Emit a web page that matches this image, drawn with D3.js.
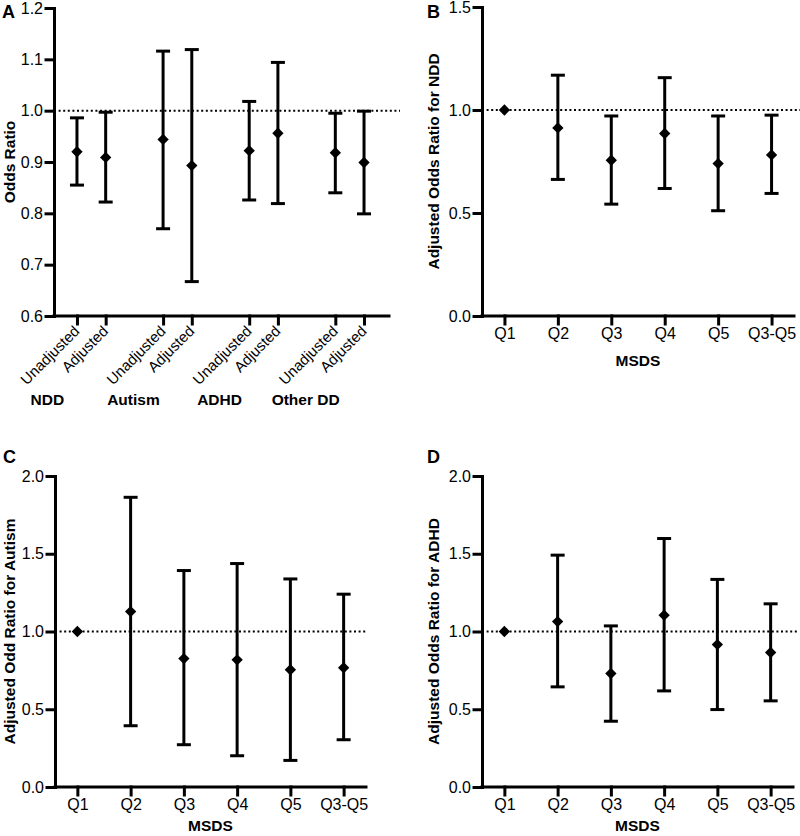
<!DOCTYPE html>
<html>
<head>
<meta charset="utf-8">
<script src="https://cdn.jsdelivr.net/npm/d3@7"></script>
<style>
  body { margin: 0; background: #fff; }
  svg { display: block; font-family: "Liberation Sans", Arial, Helvetica, sans-serif; }
  .title { font-size: 15.5px; font-weight: bold; }
  .letter { font-size: 18px; font-weight: bold; }
</style>
</head>
<body>
<svg id="chart" width="800" height="836"></svg>
<script>
// panel A: odds ratios by outcome, unadjusted / adjusted
var groupsA = ['NDD', 'Autism', 'ADHD', 'Other DD'];
var modelsA = ['Unadjusted', 'Adjusted'];
var orA = [0.920, 0.909, 0.944, 0.893, 0.922, 0.956, 0.918, 0.899];
var loA = [0.855, 0.822, 0.770, 0.667, 0.826, 0.819, 0.840, 0.799];
var hiA = [0.986, 0.997, 1.116, 1.119, 1.018, 1.094, 0.995, 0.999];
var yTicksA = [0.6, 0.7, 0.8, 0.9, 1.0, 1.1, 1.2];

// panels B-D: adjusted odds ratios by MSDS quintile
var quintiles = ['Q1', 'Q2', 'Q3', 'Q4', 'Q5', 'Q3-Q5'];
var orNDD = [1.0, 0.913, 0.756, 0.886, 0.740, 0.782];
var loNDD = [null, 0.663, 0.543, 0.619, 0.511, 0.595];
var hiNDD = [null, 1.169, 0.971, 1.157, 0.971, 0.975];
var orAutism = [1.0, 1.128, 0.826, 0.818, 0.754, 0.767];
var loAutism = [null, 0.394, 0.272, 0.201, 0.171, 0.304];
var hiAutism = [null, 1.863, 1.392, 1.437, 1.338, 1.240];
var orADHD = [1.0, 1.064, 0.730, 1.105, 0.916, 0.865];
var loADHD = [null, 0.644, 0.423, 0.618, 0.498, 0.554];
var hiADHD = [null, 1.491, 1.036, 1.598, 1.335, 1.178];
var yTicksB = [0.0, 0.5, 1.0, 1.5];
var yTicksCD = [0.0, 0.5, 1.0, 1.5, 2.0];

var svg = d3.select('#chart');

// square diamond marker
var diamond = {
    draw: function(ctx, size) {
        var r = Math.sqrt(size / 2);
        ctx.moveTo(0, -r);
        ctx.lineTo(r, 0);
        ctx.lineTo(0, r);
        ctx.lineTo(-r, 0);
        ctx.closePath();
    }
};
var marker = d3.symbol().type(diamond).size(64);

function styleAxis(sel) {
    sel.selectAll('path, line')
        .attr('stroke', '#000')
        .attr('stroke-width', 3)
        .attr('stroke-linecap', 'square');
    sel.selectAll('text')
        .attr('font-size', 16)
        .attr('fill', '#000');
}

function drawPanel(p) {
    var g = svg.append('g');
    var y = d3.scaleLinear().domain(p.yDomain).range([p.bottom, p.top]);
    var x = p.x;

    // reference line at 1
    g.append('line')
        .attr('x1', p.left).attr('x2', p.refEnd)
        .attr('y1', y(1)).attr('y2', y(1))
        .attr('stroke', '#000')
        .attr('stroke-width', 2)
        .attr('stroke-dasharray', '2,2.6');

    g.append('g')
        .attr('transform', 'translate(' + p.left + ',0)')
        .call(d3.axisLeft(y).tickValues(p.yTicks).tickFormat(d3.format('.1f'))
            .tickSize(8).tickSizeOuter(0).tickPadding(3))
        .call(styleAxis);

    var xa = g.append('g')
        .attr('transform', 'translate(0,' + p.bottom + ')')
        .call(d3.axisBottom(x).tickValues(p.xTicks).tickFormat(p.xFormat)
            .tickSize(8).tickSizeOuter(0).tickPadding(4))
        .call(styleAxis);
    xa.select('.domain').attr('d', 'M' + p.left + ',0H' + p.right);
    if (p.rotate) {
        xa.selectAll('text')
            .attr('text-anchor', 'end')
            .attr('dy', null)
            .attr('y', null)
            .attr('font-size', 15)
            .attr('transform', 'translate(3,16) rotate(-45)');
    }

    var pts = p.or.map(function(v, i) {
        return { x: x(p.xTicks[i]), v: v, lo: p.lo[i], hi: p.hi[i] };
    });

    var bars = g.selectAll('.bar')
        .data(pts.filter(function(d) { return d.lo != null; }))
        .enter()
        .append('g')
            .attr('class', 'bar')
            .attr('stroke', '#000')
            .attr('stroke-width', 3);
    bars.append('line')
        .attr('x1', function(d) { return d.x; })
        .attr('x2', function(d) { return d.x; })
        .attr('y1', function(d) { return y(d.lo); })
        .attr('y2', function(d) { return y(d.hi); });
    bars.selectAll('.cap')
        .data(function(d) { return [[d.x, d.lo], [d.x, d.hi]]; })
        .enter()
        .append('line')
            .attr('x1', function(d) { return d[0] - 7; })
            .attr('x2', function(d) { return d[0] + 7; })
            .attr('y1', function(d) { return y(d[1]); })
            .attr('y2', function(d) { return y(d[1]); });

    g.selectAll('.pt')
        .data(pts)
        .enter()
        .append('path')
            .attr('d', marker)
            .attr('transform', function(d) { return 'translate(' + d.x + ',' + y(d.v) + ')'; })
            .attr('fill', '#000');

    g.append('text')
        .attr('class', 'title')
        .attr('text-anchor', 'middle')
        .attr('transform', 'translate(' + p.titleX + ',' + ((p.top + p.bottom) / 2) + ') rotate(-90)')
        .text(p.yTitle);

    if (p.xTitle) {
        g.append('text')
            .attr('class', 'title')
            .attr('text-anchor', 'middle')
            .attr('x', (p.left + p.right) / 2)
            .attr('y', p.xTitleY)
            .text(p.xTitle);
    }

    g.append('text')
        .attr('class', 'letter')
        .attr('x', p.letterX)
        .attr('y', p.letterY)
        .text(p.letter);

    return g;
}

// panel A
var posA = [];
groupsA.forEach(function(grp, gi) {
    modelsA.forEach(function(m, mi) { posA.push(gi * 3 + mi); });
});
var xA = d3.scaleLinear().domain([-0.8, 10.87]).range([54, 389]);
var gA = drawPanel({
    left: 54, right: 389, top: 8, bottom: 316, refEnd: 400,
    x: xA, xTicks: posA,
    xFormat: function(d, i) { return modelsA[i % 2]; },
    rotate: true,
    yDomain: [0.6, 1.2], yTicks: yTicksA,
    or: orA, lo: loA, hi: hiA,
    yTitle: 'Odds Ratio', titleX: 15,
    letter: 'A', letterX: 2, letterY: 18
});
gA.selectAll('.group')
    .data(groupsA)
    .enter()
    .append('text')
        .attr('class', 'title')
        .attr('text-anchor', 'middle')
        .attr('font-size', '15px')
        .attr('x', function(d, i) { return xA(i * 3 + 0.5) - 44; })
        .attr('y', 405)
        .text(function(d) { return d; });

function quintScale(left, right) {
    return d3.scalePoint().domain(quintiles).range([left, right]).padding(0.42);
}

drawPanel({
    left: 482, right: 794, top: 7, bottom: 316, refEnd: 800,
    x: quintScale(482, 794), xTicks: quintiles, xFormat: null,
    yDomain: [0, 1.5], yTicks: yTicksB,
    or: orNDD, lo: loNDD, hi: hiNDD,
    yTitle: 'Adjusted Odds Ratio for NDD', titleX: 439, xTitle: 'MSDS', xTitleY: 366,
    letter: 'B', letterX: 427, letterY: 18
});

drawPanel({
    left: 55, right: 366, top: 476, bottom: 787, refEnd: 367,
    x: quintScale(55, 366), xTicks: quintiles, xFormat: null,
    yDomain: [0, 2], yTicks: yTicksCD,
    or: orAutism, lo: loAutism, hi: hiAutism,
    yTitle: 'Adjusted Odd Ratio for Autism', titleX: 15, xTitle: 'MSDS', xTitleY: 831,
    letter: 'C', letterX: 3, letterY: 463
});

drawPanel({
    left: 482, right: 793, top: 476, bottom: 787, refEnd: 798,
    x: quintScale(482, 793), xTicks: quintiles, xFormat: null,
    yDomain: [0, 2], yTicks: yTicksCD,
    or: orADHD, lo: loADHD, hi: hiADHD,
    yTitle: 'Adjusted Odds Ratio for ADHD', titleX: 439, xTitle: 'MSDS', xTitleY: 831,
    letter: 'D', letterX: 427, letterY: 463
});
</script>
</body>
</html>
